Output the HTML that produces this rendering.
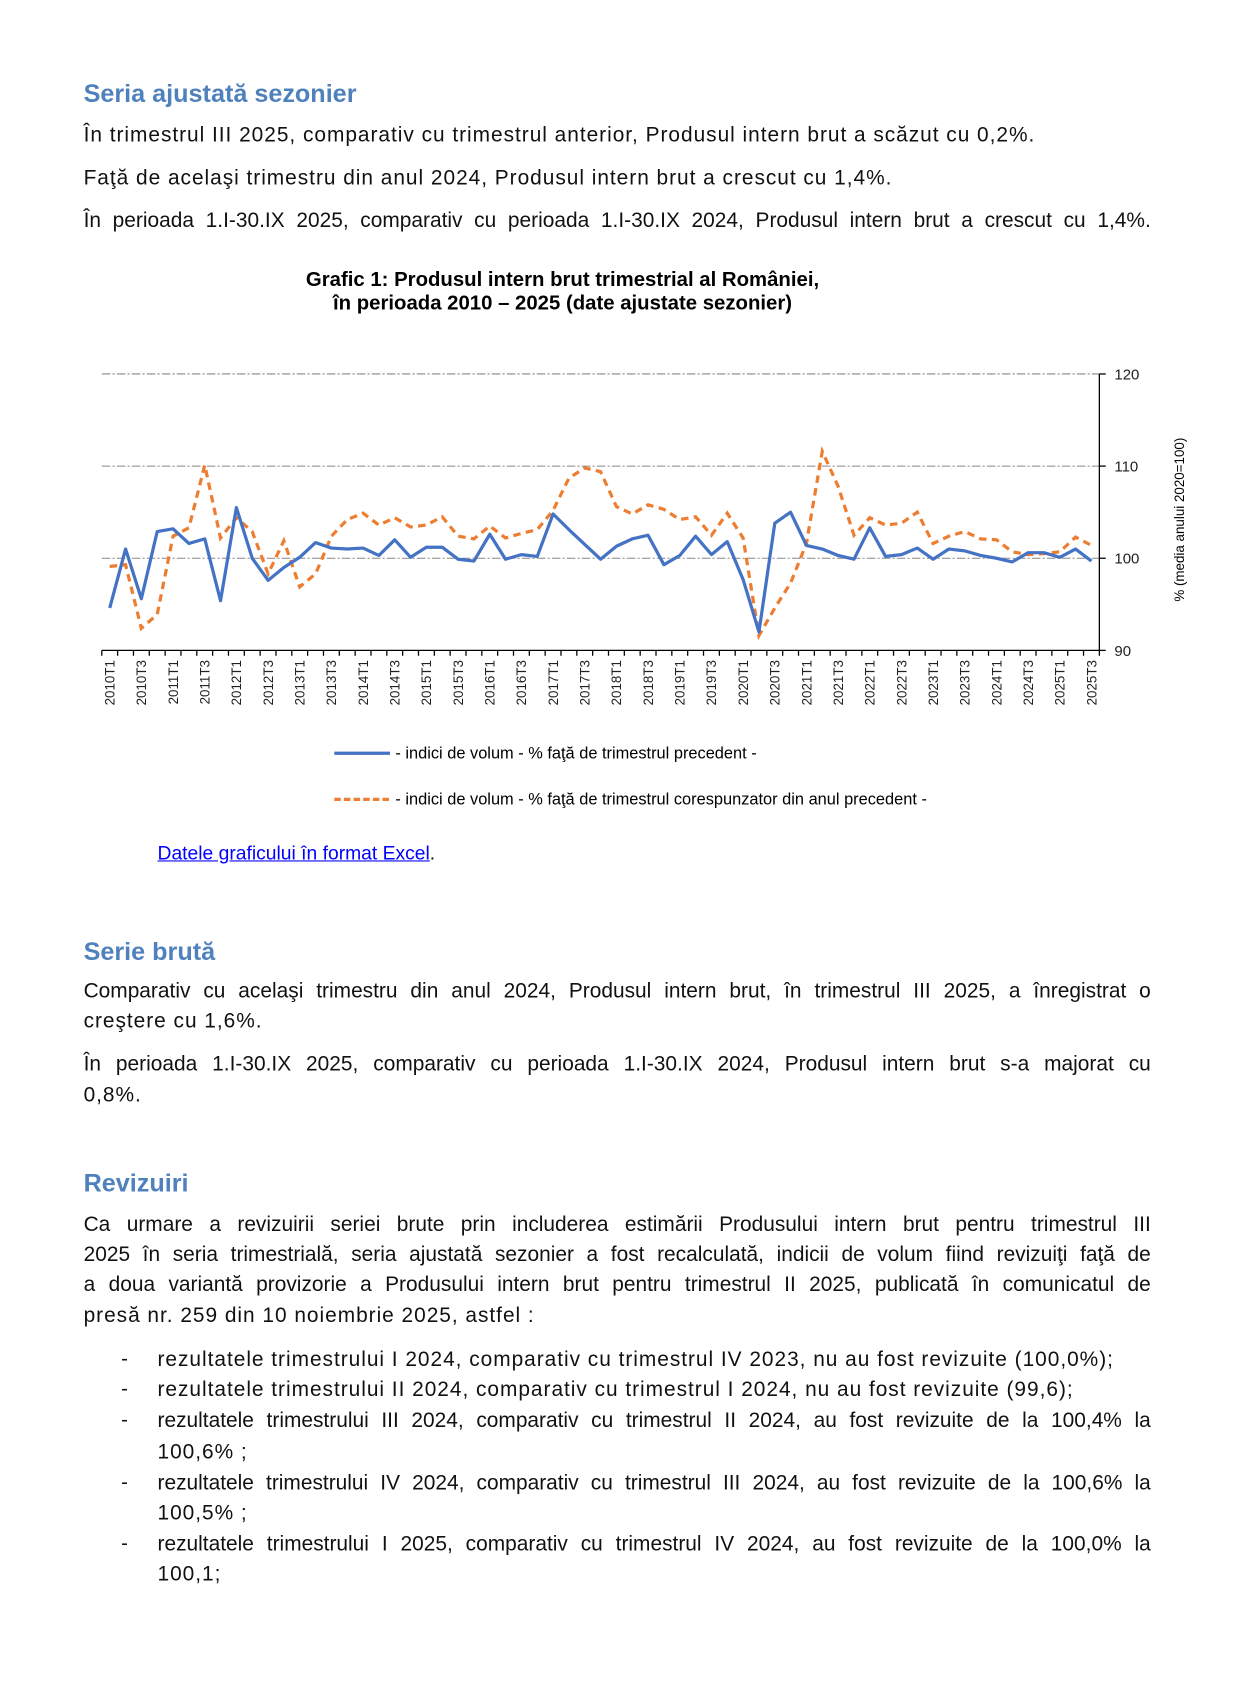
<!DOCTYPE html>
<html><head><meta charset="utf-8"><style>
html,body{margin:0;padding:0;background:#fff;width:1233px;height:1679px;overflow:hidden}
#w{position:absolute;left:0;top:0;width:1160px;height:1580px;transform:scale(1.0715);transform-origin:0 0;font-family:"Liberation Sans",sans-serif;color:#111}
.h{position:absolute;left:78px;font-size:23.5px;font-weight:bold;color:#4f81bd}
.l{position:absolute;left:78px;font-size:19.5px;letter-spacing:0.9px;white-space:nowrap;line-height:22px}
.j{width:996px;text-align:justify;text-align-last:justify;white-space:normal;letter-spacing:0}
.b{left:147px}
.bj{width:927px}
.d{position:absolute;left:113px;font-size:19px}
</style></head><body><div id="w">
<div class="h" style="top:74px">Seria ajustată sezonier</div>
<div class="l" style="top:115px">În trimestrul III 2025, comparativ cu trimestrul anterior, Produsul intern brut a scăzut cu 0,2%.</div>
<div class="l" style="top:155px">Faţă de acelaşi trimestru din anul 2024, Produsul intern brut a crescut cu 1,4%.</div>
<div class="l j" style="top:195px">În perioada 1.I-30.IX 2025, comparativ cu perioada 1.I-30.IX 2024, Produsul intern brut a crescut cu 1,4%.</div>

<svg style="position:absolute;left:0;top:0" width="1160" height="820" font-family="Liberation Sans, sans-serif">
<text x="525" y="267" font-size="19" font-weight="bold" text-anchor="middle">Grafic 1: Produsul intern brut trimestrial al României,</text>
<text x="525" y="289" font-size="19" font-weight="bold" text-anchor="middle">în perioada 2010 – 2025 (date ajustate sezonier)</text>
<g stroke="#888" stroke-width="1" stroke-dasharray="8,2,2,2">
<line x1="95" y1="349" x2="1026" y2="349"/><line x1="95" y1="435" x2="1026" y2="435"/><line x1="95" y1="521" x2="1026" y2="521"/>
</g>
<g id="ax" stroke="#000" stroke-width="1.2"></g>
<g font-size="14" fill="#222"><text x="1040" y="354">120</text><text x="1040" y="440">110</text><text x="1040" y="526">100</text><text x="1040" y="612">90</text></g>
<text transform="translate(1105,485) rotate(-90)" font-size="12.5" text-anchor="middle">% (media anului 2020=100)</text>
<g id="xl" font-size="12.5" fill="#222"></g>
<polyline id="po" fill="none" stroke="#ed7d31" stroke-width="3" stroke-dasharray="7,5"/>
<polyline id="pb" fill="none" stroke="#4472c4" stroke-width="3" stroke-linejoin="round"/>
<line x1="312" y1="703" x2="364" y2="703" stroke="#4472c4" stroke-width="3"/>
<text x="369" y="708" font-size="15.3">- indici de volum - % faţă de trimestrul precedent -</text>
<line x1="312" y1="746" x2="364" y2="746" stroke="#ed7d31" stroke-width="3" stroke-dasharray="6,3"/>
<text x="369" y="751" font-size="15.3">- indici de volum - % faţă de trimestrul corespunzator din anul precedent -</text>
</svg>
<div class="l" style="top:785px;left:147px;font-size:18px;letter-spacing:0"><span style="color:#00f;text-decoration:underline">Datele graficului în format Excel</span>.</div>

<div class="h" style="top:875px">Serie brută</div>
<div class="l j" style="top:914px">Comparativ cu acelaşi trimestru din anul 2024, Produsul intern brut, în trimestrul III 2025, a înregistrat o</div>
<div class="l" style="top:942px">creştere cu 1,6%.</div>
<div class="l j" style="top:982px">În perioada 1.I-30.IX 2025, comparativ cu perioada 1.I-30.IX 2024, Produsul intern brut s-a majorat cu</div>
<div class="l" style="top:1011px">0,8%.</div>

<div class="h" style="top:1091px">Revizuiri</div>
<div class="l j" style="top:1132px">Ca urmare a revizuirii seriei brute prin includerea estimării Produsului intern brut pentru trimestrul III</div>
<div class="l j" style="top:1160px">2025 în seria trimestrială, seria ajustată sezonier a fost recalculată, indicii de volum fiind revizuiţi faţă de</div>
<div class="l j" style="top:1188px">a doua variantă provizorie a Produsului intern brut pentru trimestrul II 2025, publicată în comunicatul de</div>
<div class="l" style="top:1217px">presă nr. 259 din 10 noiembrie 2025, astfel :</div>

<div class="d" style="top:1258px">-</div><div class="l b" style="top:1258px">rezultatele trimestrului I 2024, comparativ cu trimestrul IV 2023, nu au fost revizuite (100,0%);</div>
<div class="d" style="top:1286px">-</div><div class="l b" style="top:1286px">rezultatele trimestrului II 2024, comparativ cu trimestrul I 2024, nu au fost revizuite (99,6);</div>
<div class="d" style="top:1315px">-</div><div class="l b j bj" style="top:1315px">rezultatele trimestrului III 2024, comparativ cu trimestrul II 2024, au fost revizuite de la 100,4% la</div>
<div class="l b" style="top:1344px">100,6% ;</div>
<div class="d" style="top:1373px">-</div><div class="l b j bj" style="top:1373px">rezultatele trimestrului IV 2024, comparativ cu trimestrul III 2024, au fost revizuite de la 100,6% la</div>
<div class="l b" style="top:1401px">100,5% ;</div>
<div class="d" style="top:1430px">-</div><div class="l b j bj" style="top:1430px">rezultatele trimestrului I 2025, comparativ cu trimestrul IV 2024, au fost revizuite de la 100,0% la</div>
<div class="l b" style="top:1458px">100,1;</div>
</div>
<script>
var B=[94.6,101.0,95.6,102.9,103.2,101.6,102.1,95.4,105.5,100,97.6,99.0,100.1,101.7,101.1,101.0,101.1,100.3,102.0,100.1,101.2,101.2,99.9,99.7,102.6,99.9,100.4,100.2,104.8,103.1,101.5,99.9,101.3,102.1,102.5,99.3,100.3,102.4,100.4,101.8,97.7,92.0,103.8,105.0,101.4,101.0,100.3,99.9,103.3,100.2,100.4,101.1,99.9,101.0,100.8,100.3,100.0,99.6,100.6,100.6,100.1,101.0,99.7];
var O=[99.1,99.3,92.4,93.9,102.4,103.3,110.1,102.2,104.4,102.9,98.3,101.9,96.9,98.3,102.4,104.2,104.9,103.6,104.4,103.4,103.6,104.5,102.4,102.1,103.5,102.2,102.7,103.1,105.2,108.7,109.8,109.4,105.6,104.8,105.8,105.3,104.2,104.5,102.5,104.9,102.2,91.6,94.6,97.3,101.6,111.6,107.8,102.5,104.4,103.6,103.8,105.0,101.6,102.4,102.9,102.1,102.0,100.7,100.4,100.5,100.7,102.3,101.4];
var s=14.778;function X(i){return 95+s*(i+0.5)}function Y(v){return 521-(v-100)*8.6}
function pts(a){return a.map(function(v,i){return X(i).toFixed(1)+','+Y(v).toFixed(1)}).join(' ')}
document.getElementById('pb').setAttribute('points',pts(B));
document.getElementById('po').setAttribute('points',pts(O));
var ns='http://www.w3.org/2000/svg',ax=document.getElementById('ax'),xl=document.getElementById('xl');
function ln(a,b,c,d){var l=document.createElementNS(ns,'line');l.setAttribute('x1',a);l.setAttribute('y1',b);l.setAttribute('x2',c);l.setAttribute('y2',d);ax.appendChild(l)}
ln(95,607,1026,607);ln(1026,349,1026,607);
[349,435,521,607].forEach(function(y){ln(1026,y,1032,y)});
for(var k=0;k<=63;k++){var x=95+s*k;ln(x,607,x,612)}
for(var i=0;i<63;i+=2){var t=document.createElementNS(ns,'text');var y=2010+Math.floor(i/4),q=i%4+1;t.textContent=y+'T'+q;t.setAttribute('text-anchor','end');t.setAttribute('transform','translate('+(X(i)+4.5)+',616) rotate(-90)');xl.appendChild(t)}
</script>
</body></html>
